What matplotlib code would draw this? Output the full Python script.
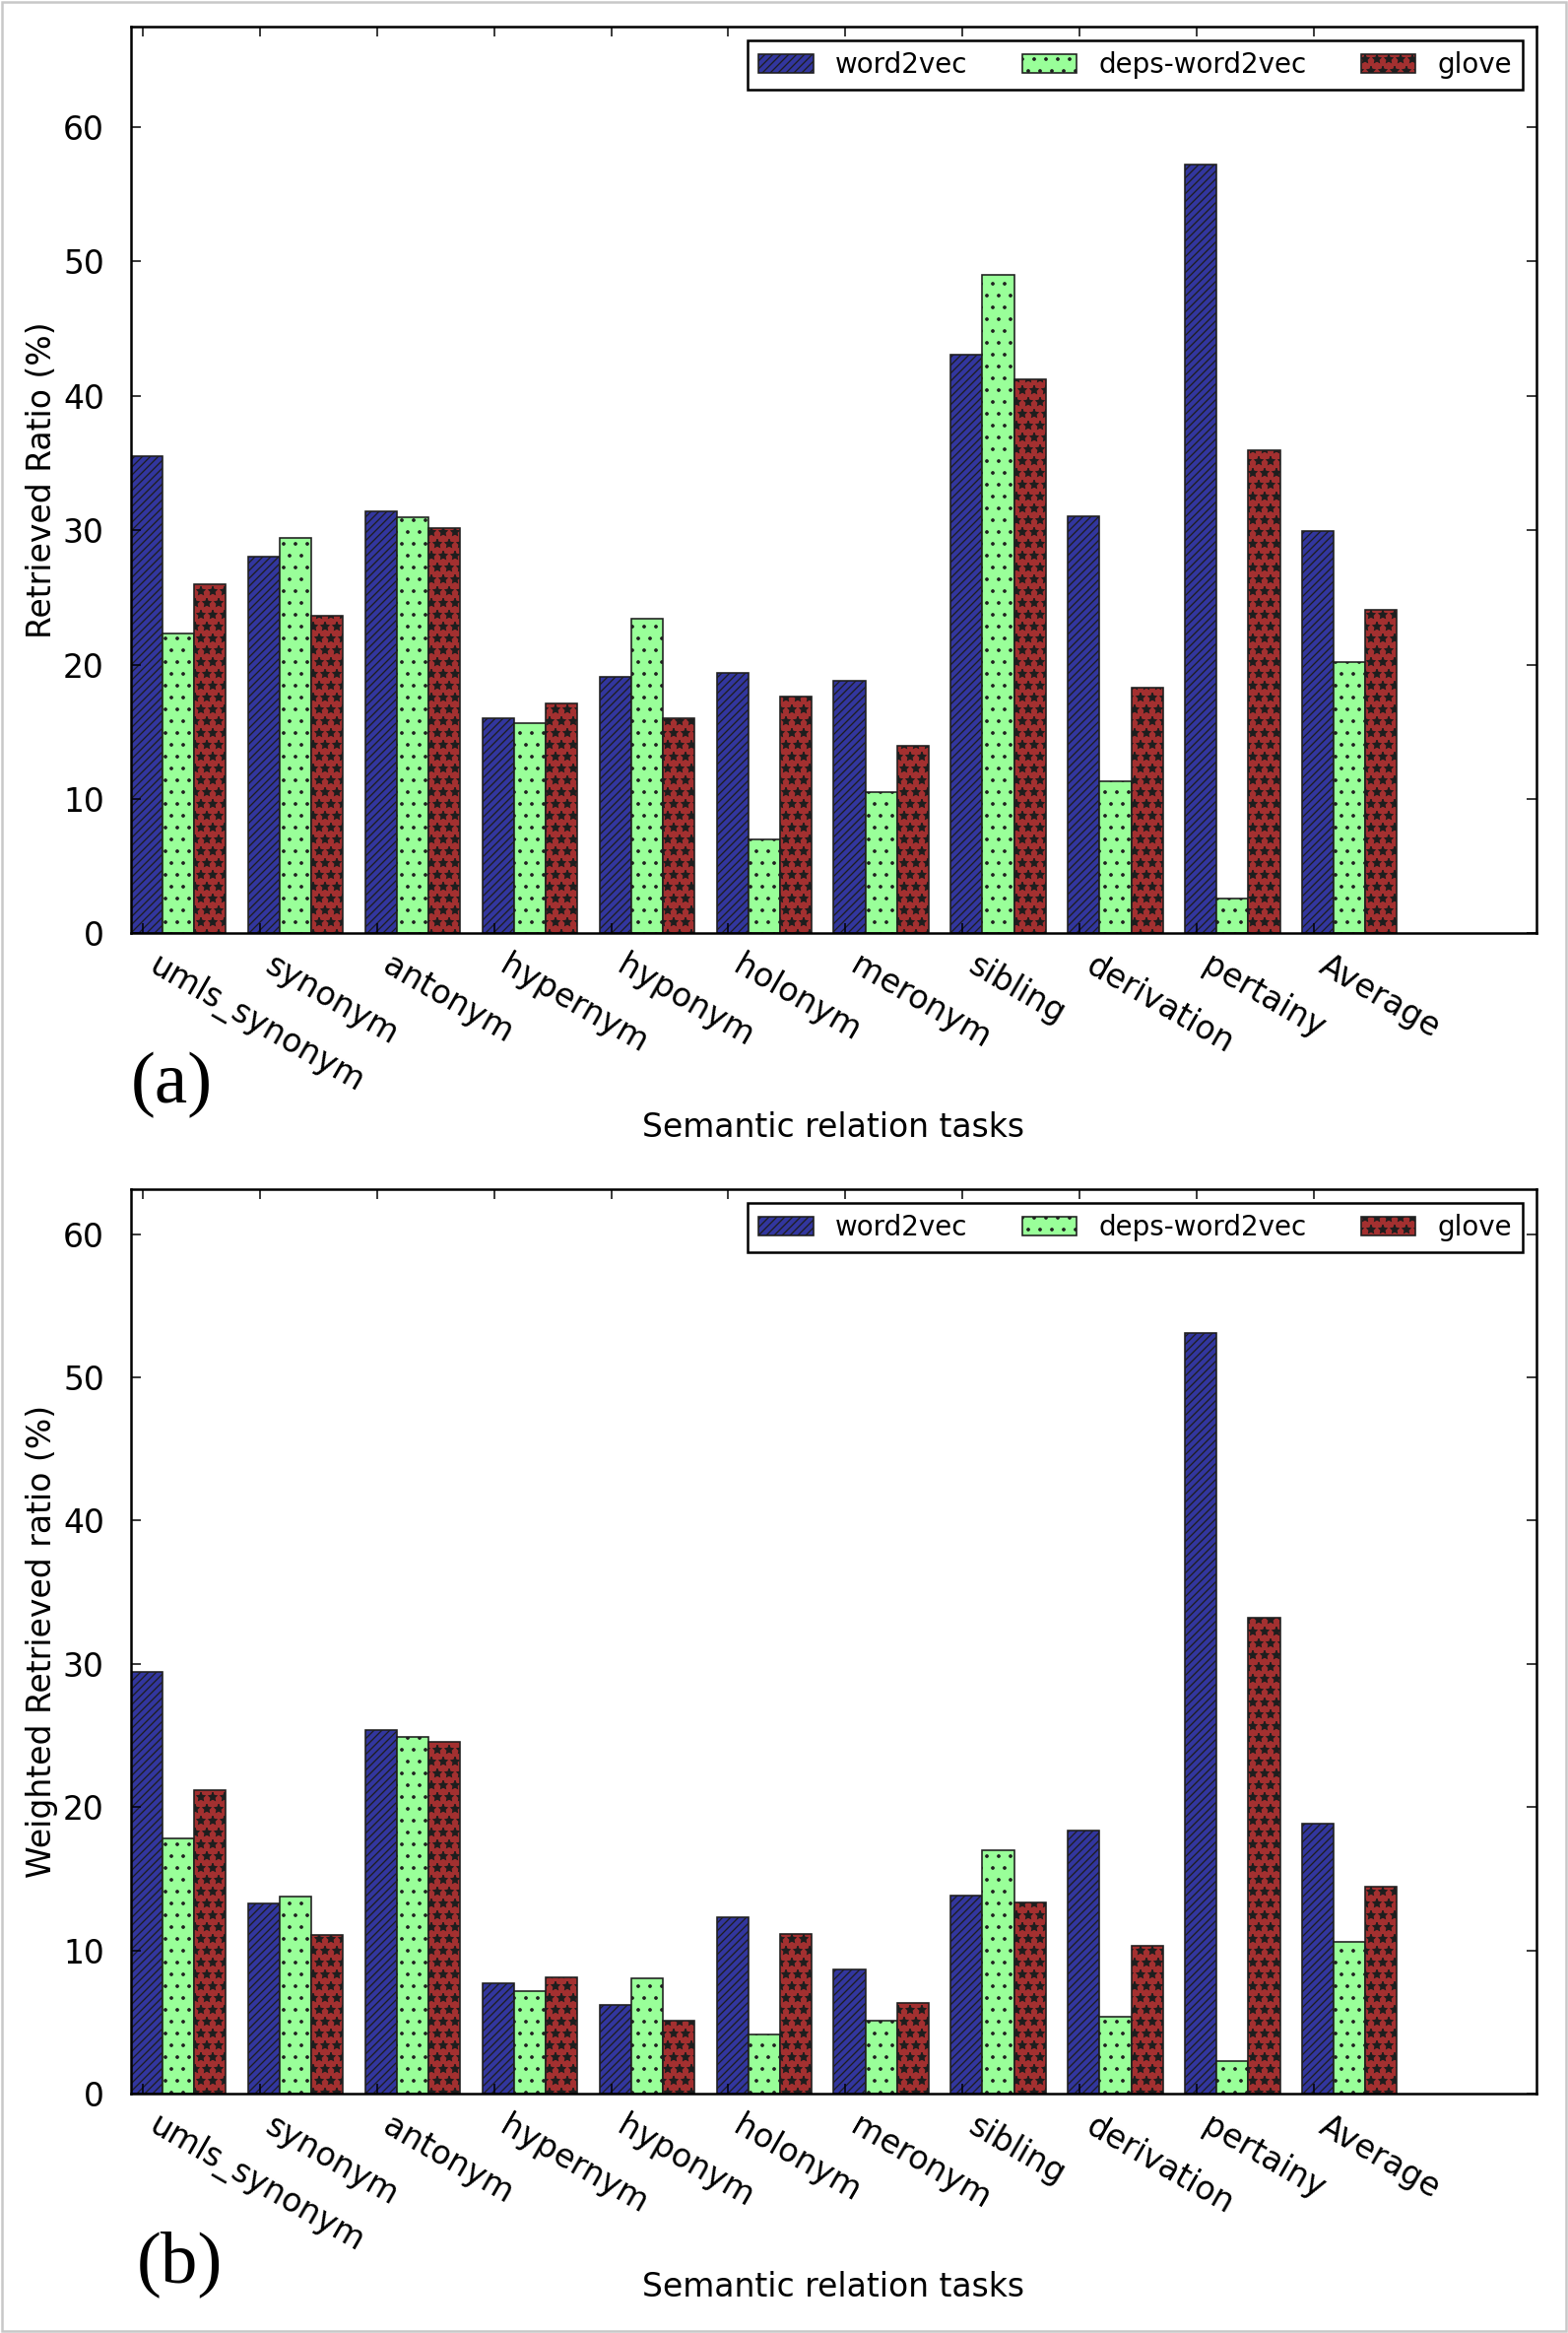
import numpy as np
import matplotlib
matplotlib.use('Agg')
import matplotlib.pyplot as plt
from matplotlib.patches import Rectangle

# data
tasks = ['umls_synonym', 'synonym', 'antonym', 'hypernym', 'hyponym', 'holonym',
         'meronym', 'sibling', 'derivation', 'pertainy', 'Average']
models = ['word2vec', 'deps-word2vec', 'glove']

ratio_w2v = [35.5, 28.05, 31.44, 16.0, 19.06, 19.37, 18.83, 43.07, 31.06, 57.2, 29.96]
ratio_deps = [22.35, 29.4, 30.94, 15.65, 23.45, 6.97, 10.55, 49.0, 11.3, 2.57, 20.2]
ratio_glove = [26.0, 23.6, 30.13, 17.1, 16.0, 17.66, 13.93, 41.26, 18.27, 35.95, 24.04]

wratio_w2v = [29.47, 13.26, 25.4, 7.68, 6.16, 12.32, 8.64, 13.82, 18.37, 53.07, 18.85]
wratio_deps = [17.79, 13.75, 24.92, 7.13, 8.02, 4.16, 5.06, 17.01, 5.40, 2.26, 10.57]
wratio_glove = [21.2, 11.1, 24.53, 8.11, 5.06, 11.13, 6.32, 13.36, 10.32, 33.2, 14.44]

colors = ['#32369e', '#99ff99', '#a33030']
hatches = ['///', '.', '*']

plt.rcParams['hatch.linewidth'] = 1.3

DPI = 72
fig = plt.figure(figsize=(1592 / DPI, 2368 / DPI), dpi=DPI, facecolor='white')

ax1 = fig.add_axes([0.0835, 0.5999, 0.8964, 0.3887])
ax2 = fig.add_axes([0.0835, 0.1026, 0.8964, 0.3877])

ind = np.arange(len(tasks))
width = 0.27


def draw_panel(ax, series, ylabel, ytop):
    for k, vals in enumerate(series):
        ax.bar(ind + k * width, vals, width, align='edge', color=colors[k],
               edgecolor='#1e1e1e', linewidth=1.6, hatch=hatches[k], label=models[k])
    ax.set_xlim(0, 12)
    ax.set_ylim(0, ytop)
    ax.set_yticks(np.arange(0, 61, 10))
    ax.set_xticks(ind + 0.1)
    ax.set_xticklabels(tasks, rotation=-30, ha='left', fontsize=33)
    ax.tick_params(axis='both', direction='in', top=True, right=True,
                   length=10, width=1.5, labelsize=33)
    ax.tick_params(axis='y', pad=27)
    ax.tick_params(axis='x', pad=16)
    for sp in ax.spines.values():
        sp.set_linewidth(2.5)
    ax.set_ylabel(ylabel, fontsize=33)
    ax.yaxis.set_label_coords(-0.052, 0.5)
    ax.set_xlabel('Semantic relation tasks', fontsize=33)
    ax.xaxis.set_label_coords(0.5, -0.196)
    leg = ax.legend(loc='upper right', ncol=3, fontsize=27.7, fancybox=False,
                    borderaxespad=0.5, handlelength=2.0, handletextpad=0.8,
                    columnspacing=2.0, framealpha=1)
    leg.get_frame().set_edgecolor('black')
    leg.get_frame().set_linewidth(2.5)


draw_panel(ax1, [ratio_w2v, ratio_deps, ratio_glove], 'Retrieved Ratio (%)', 67.47)
draw_panel(ax2, [wratio_w2v, wratio_deps, wratio_glove], 'Weighted Retrieved ratio (%)', 63.14)

fig.text(0.0835, 0.5350, '(a)', family='Liberation Serif', fontsize=75, va='center', ha='left')
fig.text(0.0873, 0.0296, '(b)', family='Liberation Serif', fontsize=75, va='center', ha='left')

fig.patches.append(Rectangle((0.0015, 0.001), 0.997, 0.998, transform=fig.transFigure,
                             fill=False, edgecolor='#c8c8c8', linewidth=2.5))

fig.savefig('out.png', dpi=DPI, facecolor='white')
